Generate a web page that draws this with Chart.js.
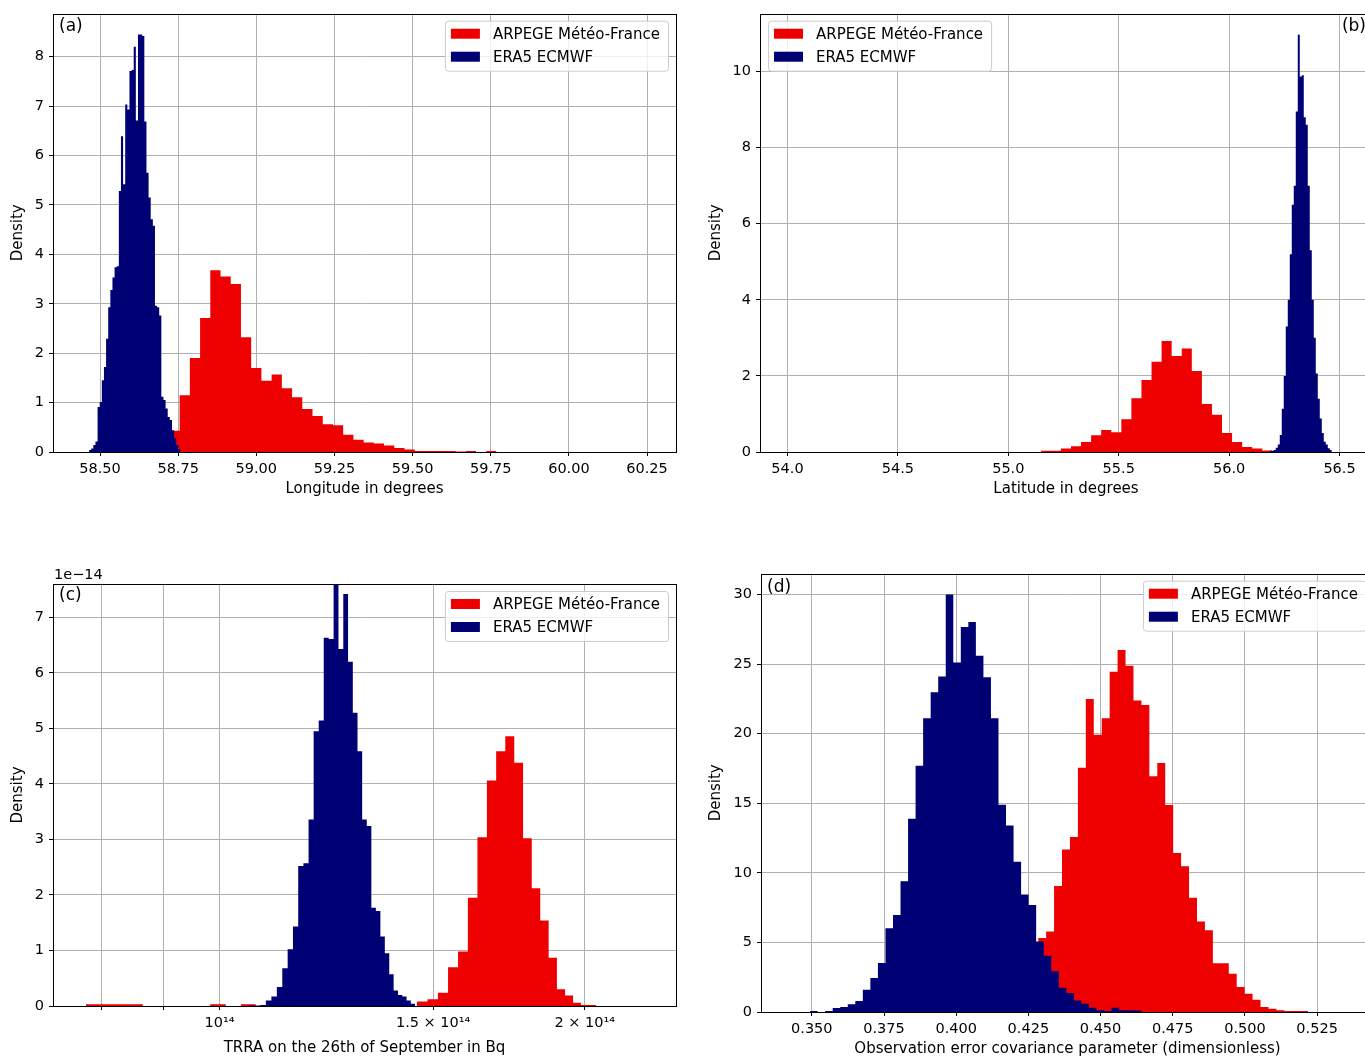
<!doctype html>
<html lang="en">
<head>
<meta charset="utf-8">
<title>Posterior histograms ARPEGE / ERA5</title>
<script src="https://cdn.jsdelivr.net/npm/chart.js@4.4.1/dist/chart.umd.min.js"></script>
<style>
  html, body { margin: 0; padding: 0; background: #fff; overflow: hidden; width: 1365px; height: 1057px; }
  canvas { position: absolute; }
</style>
</head>
<body>
<canvas id="chartA" width="690" height="498" style="left:0;top:0"></canvas>
<canvas id="chartB" width="680" height="498" style="left:700px;top:0"></canvas>
<canvas id="chartC" width="690" height="497" style="left:0;top:560px"></canvas>
<canvas id="chartD" width="682" height="498" style="left:700px;top:560px"></canvas>
<script>
// ---- data (densities, bins given by start edge + width) ----
const seriesNames = ['ARPEGE Météo-France', 'ERA5 ECMWF'];

// (a) longitude
const aRedStart = 58.722, aRedWidth = 0.0327;
const aRed = [0.43, 1.15, 1.90, 2.71, 3.68, 3.55, 3.40, 2.32, 1.70, 1.44, 1.57, 1.29, 1.11, 0.87, 0.73, 0.56,
  0.54, 0.35, 0.25, 0.19, 0.17, 0.13, 0.08, 0.05, 0.02, 0.02, 0.02, 0.02, 0.01, 0.02, 0, 0.02];
const aBlueStart = 58.465, aBlueWidth = 0.0068;
const aBlue = [0.04, 0.07, 0.14, 0.21, 0.91, 1.01, 1.45, 1.72, 2.29, 2.93, 3.28, 3.53, 3.74, 3.76, 5.28, 6.39,
  5.42, 7.03, 6.93, 7.71, 7.73, 8.2, 6.71, 8.45, 8.45, 8.42, 6.69, 5.65, 5.15, 4.71, 4.58, 2.96, 2.93, 2.76,
  1.12, 1.05, 0.88, 0.71, 0.65, 0.44, 0.28, 0.14, 0.05];
const aXTicks = [58.50, 58.75, 59.00, 59.25, 59.50, 59.75, 60.00, 60.25];
const aYTicks = [0, 1, 2, 3, 4, 5, 6, 7, 8];

// (b) latitude
const bRedStart = 55.147, bRedWidth = 0.0456;
const bRed = [0.03, 0.03, 0.09, 0.15, 0.26, 0.44, 0.58, 0.52, 0.86, 1.41, 1.89, 2.37, 2.92, 2.52, 2.72, 2.13,
  1.26, 0.98, 0.50, 0.26, 0.13, 0.09, 0.04];
const bBlueStart = 56.184, bBlueWidth = 0.00906;
const bBlue = [0.03, 0.03, 0.05, 0.11, 0.2, 0.45, 1.14, 2.0, 3.3, 4.0, 5.2, 6.5, 7.0, 8.95, 10.97, 9.87, 9.9,
  8.8, 8.6, 7.0, 5.3, 4.0, 3.0, 2.06, 1.4, 0.88, 0.5, 0.27, 0.2, 0.1, 0.05];
const bXTicks = [54.0, 54.5, 55.0, 55.5, 56.0, 56.5];
const bYTicks = [0, 2, 4, 6, 8, 10];

// (c) TRRA, densities in units of 1e-14
const cRedStart = 0.776e14, cRedWidth = 0.0295e14;
const cRed = [0.03, 0.03, 0.03, 0, 0, 0, 0, 0.03, 0, 0.03, 0, 0, 0, 0, 0, 0, 0, 0, 0, 0, 0, 0, 0,
  0.08, 0.12, 0.24, 0.70, 0.98, 1.95, 3.04, 4.06, 4.59, 4.86, 4.38, 3.02, 2.12, 1.54, 0.87, 0.30, 0.19, 0.06,
  0.02, 0.02];
const cBlueStart = 1.0574e14, cBlueWidth = 0.011523e14;
const cBlue = [0.01, 0.01, 0.02, 0.1, 0.17, 0.34, 0.68, 1.02, 1.43, 2.52, 2.57, 3.36, 4.95, 5.14, 6.63, 6.61,
  7.7, 6.43, 7.42, 6.2, 5.28, 4.59, 3.36, 3.24, 1.77, 1.71, 1.25, 0.95, 0.57, 0.28, 0.2, 0.17, 0.1, 0.04];
const cXTicks = [8e13, 9e13, 1e14, 1.5e14, 2e14];
const cXLabels = ['', '', '10¹⁴', '1.5 × 10¹⁴', '2 × 10¹⁴'];
const cYTicks = [0, 1, 2, 3, 4, 5, 6, 7];

// (d) observation error covariance parameter
const dRedStart = 0.4284, dRedWidth = 0.00275;
const dRed = [5.31, 5.79, 9.05, 11.67, 12.57, 17.55, 22.5, 19.93, 21.12, 24.45, 26.02, 24.88, 22.38, 22.07,
  16.95, 17.9, 14.88, 11.43, 10.48, 8.21, 6.5, 5.88, 3.5, 3.5, 2.74, 1.79, 1.31, 0.88, 0.36, 0.24, 0.12,
  0.07, 0.07, 0.07];
const dBlueStart = 0.3494, dBlueWidth = 0.00261;
const dBlue = [0.07, 0, 0.07, 0.29, 0.36, 0.55, 0.79, 1.6, 2.45, 3.52, 6.02, 6.98, 9.4, 13.88, 17.69, 21.12,
  22.98, 24.12, 30.0, 25.12, 27.67, 28.02, 25.6, 24.05, 21.12, 14.9, 13.4, 10.8, 8.45, 7.69, 5.07, 4.05,
  2.93, 1.74, 1.36, 0.83, 0.6, 0.31, 0.12, 0.07, 0.31, 0.12, 0.12, 0.1];
const dXTicks = [0.350, 0.375, 0.400, 0.425, 0.450, 0.475, 0.500, 0.525];
const dYTicks = [0, 5, 10, 15, 20, 25, 30];

// ---- style ----
const FONT = 'DejaVu Sans';
const RED = '#ee0000';
const NAVY = '#000075';
const GRID = '#b0b0b0';

// histogram as a filled stepped line: one point per left edge, closing point at the last right edge
function binsToPoints(start, width, values) {
  const pts = values.map((v, i) => ({ x: start + i * width, y: v }));
  pts.push({ x: start + values.length * width, y: 0 });
  return pts;
}

const decor = {
  id: 'decor',
  afterDraw(chart, args, o) {
    const { ctx, chartArea: a } = chart;
    ctx.save();
    // frame
    ctx.strokeStyle = '#000';
    ctx.lineWidth = 1;
    const l = Math.round(a.left) + 0.5, t = Math.round(a.top) + 0.5;
    ctx.strokeRect(l, t, Math.round(a.right) - Math.round(a.left), Math.round(a.bottom) - Math.round(a.top));

    // legend
    ctx.font = '15px "' + FONT + '"';
    const items = chart.data.datasets.map(d => ({ label: d.label, color: d.backgroundColor }));
    const tw = Math.max(...items.map(it => ctx.measureText(it.label).width));
    const bw = 48 + tw + 8, bh = 50;
    const bx = o.legendSide === 'right' ? a.right - 8 - bw : a.left + 8;
    const by = a.top + 7;
    ctx.beginPath();
    ctx.roundRect(bx + 0.5, by + 0.5, bw, bh, 3);
    ctx.fillStyle = 'rgba(255,255,255,0.8)';
    ctx.fill();
    ctx.strokeStyle = '#cccccc';
    ctx.stroke();
    items.forEach((it, i) => {
      const py = by + 8 + i * 23;
      ctx.fillStyle = it.color;
      ctx.fillRect(bx + 6, py, 29, 10);
      ctx.fillStyle = '#000';
      ctx.textBaseline = 'middle';
      ctx.textAlign = 'left';
      ctx.fillText(it.label, bx + 48, py + 6);
    });

    // panel tag
    ctx.font = '17px "' + FONT + '"';
    ctx.textBaseline = 'top';
    ctx.fillStyle = '#000';
    if (o.tagSide === 'right') {
      ctx.textAlign = 'right';
      ctx.fillText(o.tag, a.right - 6, a.top + o.tagTop);
    } else {
      ctx.textAlign = 'left';
      ctx.fillText(o.tag, a.left + 6, a.top + o.tagTop);
    }

    // axis offset text
    if (o.offsetText) {
      ctx.font = '14.5px "' + FONT + '"';
      ctx.textAlign = 'left';
      ctx.textBaseline = 'alphabetic';
      ctx.fillText(o.offsetText, a.left + 1, a.top - 5);
    }
    ctx.restore();
  }
};

function makeChart(id, c) {
  const tickFont = { family: FONT, size: 14.5 };
  const titleFont = { family: FONT, size: 15 };
  const grid = { color: GRID, lineWidth: 1, tickColor: '#000', tickLength: 4, drawTicks: true };
  return new Chart(document.getElementById(id), {
    type: 'line',
    data: {
      datasets: [
        { label: seriesNames[0], data: binsToPoints(c.redStart, c.redWidth, c.red), backgroundColor: RED,
          borderWidth: 0, fill: 'origin', stepped: true, pointRadius: 0, order: 1 },
        { label: seriesNames[1], data: binsToPoints(c.blueStart, c.blueWidth, c.blue), backgroundColor: NAVY,
          borderWidth: 0, fill: 'origin', stepped: true, pointRadius: 0, order: 0 }
      ]
    },
    options: {
      responsive: false,
      animation: false,
      events: [],
      layout: { padding: c.padding },
      plugins: {
        legend: { display: false },
        tooltip: { enabled: false },
        decor: { legendSide: c.legendSide, tag: c.tag, tagSide: c.tagSide, tagTop: c.tagTop, offsetText: c.offsetText }
      },
      scales: {
        x: {
          type: c.xType,
          min: c.xMin, max: c.xMax,
          z: 1,
          afterBuildTicks: s => { s.ticks = c.xTicks.map(v => ({ value: v })); },
          afterFit: s => { s.height = c.xHeight; },
          ticks: { callback: c.xLabel, font: tickFont, color: '#000', padding: 5, maxRotation: 0, autoSkip: false },
          grid: grid,
          border: { display: false },
          title: { display: true, text: c.xTitle, font: titleFont, color: '#000', padding: 0 }
        },
        y: {
          type: 'linear',
          min: 0, max: c.yMax,
          z: 1,
          afterBuildTicks: s => { s.ticks = c.yTicks.map(v => ({ value: v })); },
          afterFit: s => { s.width = c.yWidth; },
          ticks: { callback: v => String(v), font: tickFont, color: '#000', padding: 5, autoSkip: false },
          grid: grid,
          border: { display: false },
          title: { display: true, text: 'Density', font: titleFont, color: '#000', padding: 0 }
        }
      }
    },
    plugins: [decor]
  });
}

makeChart('chartA', {
  red: aRed, redStart: aRedStart, redWidth: aRedWidth,
  blue: aBlue, blueStart: aBlueStart, blueWidth: aBlueWidth,
  xType: 'linear', xMin: 58.3496, xMax: 60.3426, xTicks: aXTicks, xLabel: v => v.toFixed(2),
  yMax: 8.87, yTicks: aYTicks, xTitle: 'Longitude in degrees',
  padding: { left: 9, top: 12, right: 14, bottom: 0 }, yWidth: 44, xHeight: 46,
  legendSide: 'right', tag: '(a)', tagSide: 'left', tagTop: 4
});

makeChart('chartB', {
  red: bRed, redStart: bRedStart, redWidth: bRedWidth,
  blue: bBlue, blueStart: bBlueStart, blueWidth: bBlueWidth,
  xType: 'linear', xMin: 53.8755, xMax: 56.647, xTicks: bXTicks, xLabel: v => v.toFixed(1),
  yMax: 11.52, yTicks: bYTicks, xTitle: 'Latitude in degrees',
  padding: { left: 7, top: 12, right: 8, bottom: 0 }, yWidth: 53, xHeight: 46,
  legendSide: 'left', tag: '(b)', tagSide: 'right', tagTop: 4
});

makeChart('chartC', {
  red: cRed, redStart: cRedStart, redWidth: cRedWidth,
  blue: cBlue, blueStart: cBlueStart, blueWidth: cBlueWidth,
  xType: 'logarithmic', xMin: 7.291e13, xMax: 2.378e14, xTicks: cXTicks, xLabel: (v, i) => cXLabels[i],
  yMax: 7.6, yTicks: cYTicks, xTitle: 'TRRA on the 26th of September in Bq',
  padding: { left: 9, top: 24, right: 14, bottom: 0 }, yWidth: 44, xHeight: 51,
  legendSide: 'right', tag: '(c)', tagSide: 'left', tagTop: 3, offsetText: '1e\u221214'
});

makeChart('chartD', {
  red: dRed, redStart: dRedStart, redWidth: dRedWidth,
  blue: dBlue, blueStart: dBlueStart, blueWidth: dBlueWidth,
  xType: 'linear', xMin: 0.3324, xMax: 0.5447, xTicks: dXTicks, xLabel: v => v.toFixed(3),
  yMax: 31.5, yTicks: dYTicks, xTitle: 'Observation error covariance parameter (dimensionless)',
  padding: { left: 7, top: 11, right: 8, bottom: 0 }, yWidth: 54, xHeight: 46,
  legendSide: 'right', tag: '(d)', tagSide: 'left', tagTop: 5
});
</script>
</body>
</html>
